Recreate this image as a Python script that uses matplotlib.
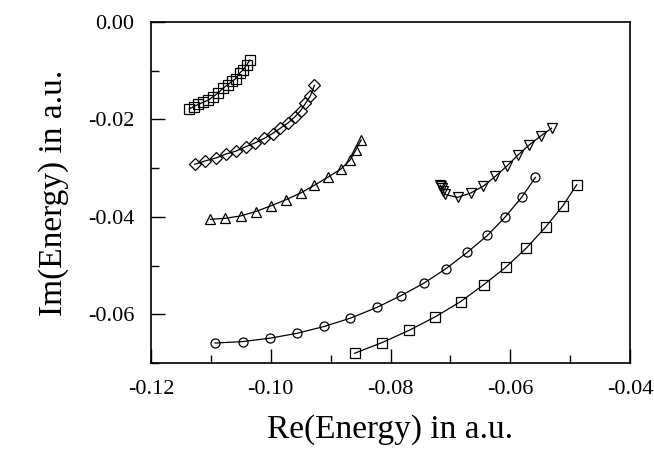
import matplotlib
matplotlib.use("Agg")
import matplotlib.pyplot as plt
from matplotlib.ticker import MultipleLocator, FormatStrFormatter

plt.rcParams['font.family'] = ['Liberation Serif', 'DejaVu Serif']

# upper squares (small cluster near top-left)
sq1_re = [-0.1136, -0.1129, -0.1121, -0.1113, -0.1104, -0.1096, -0.1088, -0.1080,
          -0.1072, -0.1065, -0.1058, -0.1052, -0.1046, -0.1040, -0.1035]
sq1_im = [-0.0178, -0.0174, -0.0169, -0.0165, -0.0160, -0.0153, -0.0146, -0.0136,
          -0.0129, -0.0122, -0.0116, -0.0105, -0.0098, -0.0088, -0.0078]

# diamonds
dia_re = [-0.1127, -0.1109, -0.1091, -0.1075, -0.1058, -0.1042, -0.1026, -0.1011,
          -0.0997, -0.0984, -0.0971, -0.0960, -0.0950, -0.0942, -0.0934, -0.0927]
dia_im = [-0.0292, -0.0285, -0.0279, -0.0271, -0.0265, -0.0256, -0.0248, -0.0239,
          -0.0229, -0.0218, -0.0207, -0.0195, -0.0182, -0.0167, -0.0152, -0.0130]

# triangles up
tri_re = [-0.1101, -0.1076, -0.1050, -0.1025, -0.0999, -0.0975, -0.0950, -0.0927,
          -0.0904, -0.0883, -0.0868, -0.0858, -0.0849]
tri_im = [-0.0405, -0.0403, -0.0398, -0.0389, -0.0377, -0.0365, -0.0351, -0.0335,
          -0.0318, -0.0302, -0.0284, -0.0263, -0.0242]

# triangles down (hook near -0.072)
tdn_re = [-0.0717, -0.0716, -0.0714, -0.0712, -0.0709, -0.0688, -0.0666, -0.0645,
          -0.0625, -0.0605, -0.0587, -0.0568, -0.0549, -0.0531]
tdn_im = [-0.0335, -0.0337, -0.0341, -0.0347, -0.0354, -0.0360, -0.0351, -0.0337,
          -0.0317, -0.0295, -0.0273, -0.0252, -0.0234, -0.0218]

# circles
cir_re = [-0.1093, -0.1047, -0.1001, -0.0956, -0.0911, -0.0867, -0.0823, -0.0783,
          -0.0744, -0.0707, -0.0672, -0.0638, -0.0609, -0.0581, -0.0558]
cir_im = [-0.0659, -0.0656, -0.0649, -0.0639, -0.0625, -0.0608, -0.0586, -0.0562,
          -0.0536, -0.0506, -0.0473, -0.0438, -0.0401, -0.0360, -0.0319]

# lower squares
sq2_re = [-0.0860, -0.0814, -0.0769, -0.0725, -0.0683, -0.0644, -0.0607, -0.0573,
          -0.0541, -0.0512, -0.0489]
sq2_im = [-0.0680, -0.0658, -0.0633, -0.0605, -0.0574, -0.0539, -0.0503, -0.0464,
          -0.0421, -0.0377, -0.0334]

fig = plt.figure(figsize=(6.54, 4.49), dpi=100)
ax = fig.add_axes([0.2309, 0.1915, 0.7324, 0.7595])

style = dict(color='black', linewidth=0.9, markerfacecolor='none',
             markeredgecolor='black', markeredgewidth=0.9)
ax.plot(sq1_re, sq1_im, marker='s', markersize=6.5, **style)
ax.plot(dia_re, dia_im, marker='D', markersize=6, **style)
ax.plot(tri_re, tri_im, marker='^', markersize=7, **style)
ax.plot(tdn_re, tdn_im, marker='v', markersize=7, **style)
ax.plot(cir_re, cir_im, marker='o', markersize=6.5, **style)
ax.plot(sq2_re, sq2_im, marker='s', markersize=6.5, **style)

ax.set_xlim(-0.12, -0.04)
ax.set_ylim(-0.07, 0.0)
ax.xaxis.set_major_locator(MultipleLocator(0.02))
ax.xaxis.set_minor_locator(MultipleLocator(0.01))
ax.yaxis.set_major_locator(MultipleLocator(0.02))
ax.yaxis.set_minor_locator(MultipleLocator(0.01))
ax.xaxis.set_major_formatter(FormatStrFormatter('%.2f'))
ax.yaxis.set_major_formatter(FormatStrFormatter('%.2f'))

ax.tick_params(which='both', direction='in', top=False, right=False,
               labelsize=16, width=1.0, color='black')
ax.tick_params(which='major', length=10, pad=12)
ax.tick_params(which='minor', length=6)
for s in ax.spines.values():
    s.set_linewidth(1.2)

ax.set_xlabel('Re(Energy) in a.u.', fontsize=24, labelpad=11)
ax.set_ylabel('Im(Energy) in a.u.', fontsize=24, labelpad=14)

fig.savefig('out.png', dpi=100)
